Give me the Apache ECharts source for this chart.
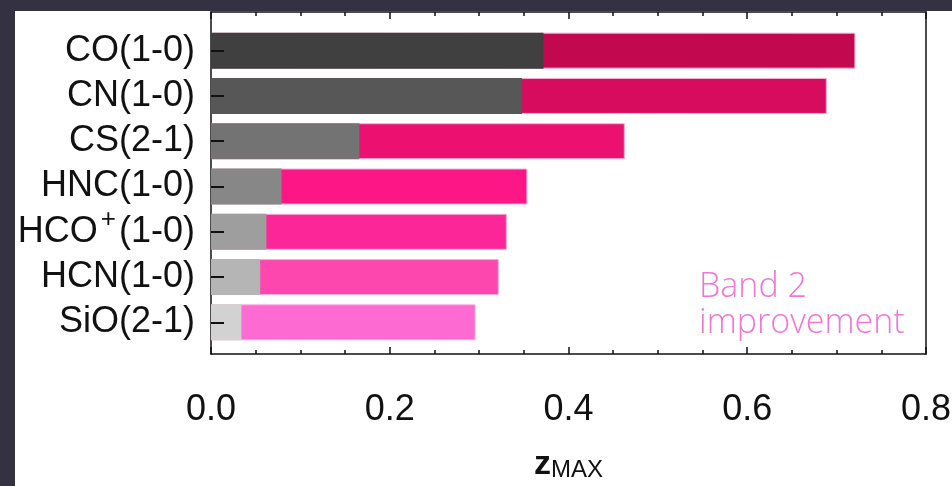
<!DOCTYPE html>
<html>
<head>
<meta charset="utf-8">
<script src="https://cdn.jsdelivr.net/npm/echarts@6/dist/echarts.min.js"></script>
<style>
  html, body { margin: 0; padding: 0; background: #343242; overflow: hidden; }
  #panel { position: absolute; left: 15px; top: 11px; width: 937px; height: 475px; background: #ffffff; }
  #chart { position: absolute; left: 0; top: 0; width: 952px; height: 486px; }
</style>
</head>
<body>
<div id="panel"></div>
<div id="chart"></div>
<script>
// ---- data ----
var lines = ['CO(1-0)', 'CN(1-0)', 'CS(2-1)', 'HNC(1-0)', 'HCO+(1-0)', 'HCN(1-0)', 'SiO(2-1)'];
var zmaxBand1 = [0.372, 0.348, 0.166, 0.079, 0.062, 0.055, 0.034];
var zmaxBand2 = [0.721, 0.689, 0.463, 0.354, 0.331, 0.322, 0.296];
var grayColors = ['#404040', '#575757', '#737373', '#878787', '#9e9e9e', '#b5b5b5', '#d2d2d2'];
var pinkColors = ['#c2084e', '#d70c5f', '#ec1071', '#fc1686', '#fd2699', '#fd46ae', '#fd6bd2'];
var xTicks = [0, 0.2, 0.4, 0.6, 0.8];
var annotation = 'Band 2\nimprovement';

var FONT = '"Liberation Sans", Arial, Helvetica, sans-serif';

function mkData(vals, colors) {
  return vals.map(function (v, i) { return { value: v, itemStyle: { color: colors[i] } }; });
}
function fmtLabel(s) {
  var k = s.indexOf('+');
  return '{n|' + s.slice(0, k) + '}{sup|+}{n|' + s.slice(k + 1) + '}';
}

var chart = echarts.init(document.getElementById('chart'), null, { renderer: 'canvas', width: 952, height: 486 });
chart.setOption({
  backgroundColor: 'transparent',
  animation: false,
  title: {
    text: annotation,
    left: 694, top: 264,
    textStyle: { fontFamily: '"Open Sans", sans-serif', fontWeight: 300, fontSize: 34, lineHeight: 36, color: '#ee78d6' }
  },
  grid: [
    { left: 211, width: 715, top: 12, height: 342, containLabel: false, outerBoundsMode: 'none' },
    { left: 211, width: 715, top: 28, height: 317, containLabel: false, outerBoundsMode: 'none' }
  ],
  xAxis: [
    {
      gridIndex: 0, type: 'value', min: xTicks[0], max: xTicks[xTicks.length - 1], interval: 0.2,
      axisLine: { show: true, onZero: false, lineStyle: { color: '#111', width: 1.5 } },
      axisTick: { show: true, inside: true, length: 7, lineStyle: { color: '#111', width: 1.5 } },
      minorTick: { show: true, splitNumber: 4, length: 4, lineStyle: { color: '#111', width: 1.5 } },
      splitLine: { show: false },
      axisLabel: { fontFamily: FONT, fontSize: 36, color: '#111', margin: 38, hideOverlap: false,
        formatter: function (v) { return v.toFixed(1); } },
      name: '{z|z}{sub|MAX}', nameLocation: 'middle', nameGap: 90,
      nameTextStyle: { rich: {
        z: { fontFamily: FONT, fontSize: 34, fontWeight: 'bold', color: '#111', verticalAlign: 'bottom' },
        sub: { fontFamily: FONT, fontSize: 24, color: '#111', padding: [14, 0, 0, 0], verticalAlign: 'bottom' }
      } }
    },
    {
      gridIndex: 0, type: 'value', position: 'top', min: 0, max: 0.8, interval: 0.2,
      axisLine: { show: true, onZero: false, lineStyle: { color: '#111', width: 1.5 } },
      axisTick: { show: true, inside: true, length: 7, lineStyle: { color: '#111', width: 1.5 } },
      minorTick: { show: true, splitNumber: 4, length: 4, lineStyle: { color: '#111', width: 1.5 } },
      splitLine: { show: false },
      axisLabel: { show: false }
    },
    {
      gridIndex: 1, type: 'value', min: 0, max: 0.8, show: false
    }
  ],
  yAxis: [
    {
      gridIndex: 0, type: 'value', min: 0, max: 1, position: 'left',
      axisLine: { show: true, onZero: false, lineStyle: { color: '#111', width: 1.5 } },
      axisTick: { show: false }, axisLabel: { show: false }, splitLine: { show: false }
    },
    {
      gridIndex: 0, type: 'value', min: 0, max: 1, position: 'right',
      axisLine: { show: true, onZero: false, lineStyle: { color: '#111', width: 1.5 } },
      axisTick: { show: false }, axisLabel: { show: false }, splitLine: { show: false }
    },
    {
      gridIndex: 1, type: 'category', data: lines, inverse: true, z: 6,
      axisLine: { show: false },
      axisTick: { show: true, inside: true, alignWithLabel: true, interval: 0, length: 13, lineStyle: { color: '#111', width: 2 } },
      axisLabel: {
        interval: 0, hideOverlap: false,
        margin: 16, color: '#111', fontFamily: FONT, fontSize: 36,
        formatter: function (v) { return v.indexOf('+') >= 0 ? fmtLabel(v) : v; },
        rich: {
          n: { fontFamily: FONT, fontSize: 36, color: '#111' },
          sup: { fontFamily: FONT, fontSize: 26, color: '#111', padding: [0, 3, 24, 3] }
        }
      },
      splitLine: { show: false }
    }
  ],
  series: [
    {
      type: 'bar', xAxisIndex: 2, yAxisIndex: 2, barWidth: 36,
      data: mkData(zmaxBand2, pinkColors),
      itemStyle: { borderColor: '#f6b0d6', borderWidth: 1 }
    },
    {
      type: 'bar', xAxisIndex: 2, yAxisIndex: 2, barWidth: 36, barGap: '-100%',
      data: mkData(zmaxBand1, grayColors)
    }
  ]
});
</script>
</body>
</html>
